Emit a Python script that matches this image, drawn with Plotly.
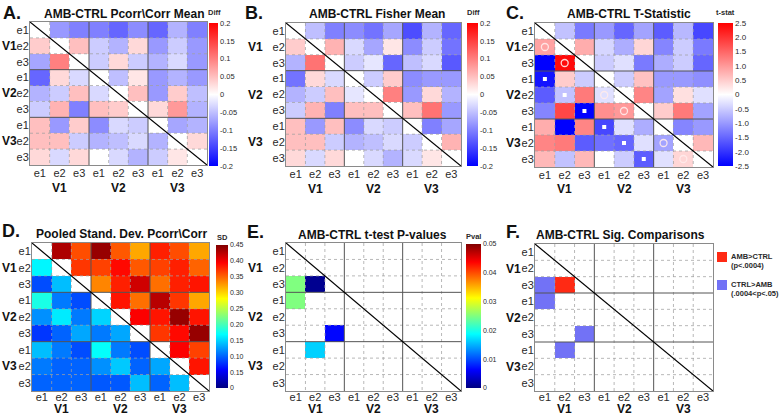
import numpy as np
import plotly.graph_objects as go

W, H = 779, 415
N = float("nan")

tick_labels = ["e1", "e2", "e3"] * 3
group_labels = ["V1", "V2", "V3"]
idx = list(range(9))

pcorr_mean = [
    [N, -0.08, -0.10, -0.10, -0.12, -0.09, -0.12, -0.06, -0.10],
    [0.04, N, 0.05, -0.04, -0.06, 0.03, -0.08, -0.04, -0.08],
    [-0.07, 0.10, N, -0.04, 0.03, -0.04, -0.06, -0.03, -0.08],
    [-0.12, 0.03, -0.03, N, -0.05, 0.02, -0.08, -0.06, -0.08],
    [-0.06, -0.04, 0.05, -0.03, N, 0.05, -0.08, 0.04, -0.05],
    [-0.04, 0.06, -0.10, 0.05, 0.04, N, 0.03, 0.08, -0.06],
    [0.05, -0.08, 0.04, -0.09, -0.03, -0.04, N, -0.07, -0.06],
    [0.05, 0.05, -0.04, -0.06, -0.05, -0.03, -0.06, N, 0.03],
    [0.03, -0.03, 0.03, 0.00, -0.03, -0.06, -0.04, 0.02, N],
]

fisher_mean = [
    [N, -0.05, -0.10, -0.09, -0.11, -0.07, -0.14, -0.06, -0.12],
    [0.04, N, 0.06, -0.03, -0.07, 0.02, -0.09, -0.04, -0.11],
    [-0.06, 0.11, N, -0.04, -0.02, -0.12, -0.05, -0.03, -0.13],
    [-0.11, 0.03, -0.03, N, -0.04, 0.04, -0.09, -0.08, -0.08],
    [-0.06, -0.04, 0.05, -0.02, N, 0.10, -0.08, 0.03, -0.06],
    [-0.04, 0.06, -0.10, 0.05, 0.05, N, 0.05, 0.11, -0.08],
    [0.05, -0.08, 0.05, -0.09, -0.03, -0.04, N, -0.10, -0.07],
    [0.05, 0.05, -0.04, -0.06, -0.05, -0.03, -0.04, N, 0.06],
    [0.03, -0.03, 0.03, 0.00, -0.03, -0.06, -0.03, 0.02, N],
]

t_stat = [
    [N, -0.6, -1.3, -1.0, -1.5, -0.9, -1.6, -0.7, -1.8],
    [0.9, N, 0.8, -0.4, -0.8, 0.4, -1.2, -0.5, -1.3],
    [-2.5, 2.4, N, -0.5, -0.3, -1.3, -0.8, -0.5, -1.5],
    [-2.3, 0.5, -0.5, N, -0.5, 0.6, -1.0, -1.0, -1.1],
    [-1.6, -0.6, 1.3, -0.3, N, 1.2, -0.9, 0.3, -0.3],
    [-1.2, 1.8, -2.5, 1.1, 1.0, N, 0.5, 1.3, -0.9],
    [0.8, -2.5, 1.2, -1.8, -0.3, -0.8, N, -1.2, -1.0],
    [1.2, 1.3, -1.6, -1.4, -1.5, -0.3, -0.9, N, 0.7],
    [0.7, -0.6, 0.7, 0.0, -0.5, -1.6, -0.3, 0.4, N],
]
square_rows = [3, 4, 5, 6, 7, 8]
square_cols = [0, 1, 2, 3, 4, 5]
circle_rows = [1, 2, 4, 5, 7, 8]
circle_cols = [0, 1, 3, 4, 6, 7]

pooled_sd = [
    [N, 0.43, 0.36, 0.44, 0.355, 0.32, 0.38, 0.36, 0.32],
    [0.165, N, 0.37, 0.365, 0.39, 0.355, 0.365, 0.38, 0.35],
    [0.09, 0.14, N, 0.335, 0.38, 0.415, 0.345, 0.38, 0.385],
    [0.18, 0.11, 0.09, N, 0.385, 0.345, 0.425, 0.37, 0.32],
    [0.12, 0.16, 0.11, 0.15, N, 0.395, 0.385, 0.44, 0.385],
    [0.08, 0.10, 0.13, 0.11, 0.13, N, 0.37, 0.39, 0.44],
    [0.14, 0.11, 0.09, 0.17, 0.11, 0.09, N, 0.395, 0.365],
    [0.11, 0.10, 0.10, 0.12, 0.145, 0.10, 0.13, N, 0.385],
    [0.10, 0.10, 0.10, 0.095, 0.095, 0.14, 0.10, 0.14, N],
]

p_values = [[N] * 9 for _ in range(9)]
p_values[2][0] = 0.025
p_values[3][0] = 0.025
p_values[2][1] = 0.0008
p_values[5][2] = 0.0065
p_values[6][1] = 0.0165

sig_code = [[N] * 9 for _ in range(9)]
sig_code[2][1] = 1
sig_code[2][0] = -1
sig_code[3][0] = -1
sig_code[5][2] = -1
sig_code[6][1] = -1

FONT = "Liberation Sans, Arial, sans-serif"
TXT = "#2a2a2a"

bwr = [[0, "rgb(0,0,255)"], [0.5, "rgb(255,255,255)"], [1, "rgb(255,0,0)"]]
jet = [[0, "rgb(0,0,128)"], [0.125, "rgb(0,0,255)"], [0.375, "rgb(0,255,255)"],
       [0.625, "rgb(255,255,0)"], [0.875, "rgb(255,0,0)"], [1, "rgb(128,0,0)"]]
sigscale = [[0, "#7272f6"], [0.5, "#7272f6"], [0.5, "#ff2a14"], [1, "#ff2a14"]]

# panel boxes in pixels: x0, x1, y0, y1
boxes = [
    (30, 207, 22, 165),
    (286, 461, 23, 166),
    (535, 713, 23, 167),
    (32, 209, 243, 391),
    (286, 461, 243, 391),
    (535, 713, 244, 391),
]
vlab_dy = [23, 23, 22, 18, 18, 18]
xtick_standoff = [-2, -2, -2, -4, -4, -4]
titles = ["AMB-CTRL Pcorr\\Corr Mean", "AMB-CTRL Fisher Mean", "AMB-CTRL T-Statistic",
          "Pooled Stand. Dev. Pcorr\\Corr", "AMB-CTRL t-test P-values", "AMB-CTRL Sig. Comparisons"]
title_pos = [(124, 14), (377, 14), (629, 14), (121, 234), (372, 235), (620, 235)]
letters = ["A.", "B.", "C.", "D.", "E.", "F."]
letter_pos = [(1, 13), (243, 13), (504, 13), (0, 231), (245, 232), (504, 232)]
vlab_x = [9, 255, 513, 9, 256, 513]

# colorbar specs: x0, thickness, ytop, ybot, label, label_x, label_y, font size
cbars = [
    (209, 9, 23, 166, "Diff", 215, 13, 7.5),
    (467, 11, 23, 166, "Diff", 473, 13, 7.5),
    (718, 15, 23, 166, "t-stat", 725, 13, 8),
    (216, 12, 245, 388, "SD", 222, 237, 7),
    (466, 15, 244, 388, "Pval", 473, 236, 7),
]

diff_ticks = [-0.2, -0.15, -0.1, -0.05, 0, 0.05, 0.1, 0.15, 0.2]
diff_text = ["-0.2", "-0.15", "-0.1", "-0.05", "0", "0.05", "0.1", "0.15", "0.2"]
t_ticks = [-2.5, -2, -1.5, -1, -0.5, 0, 0.5, 1, 1.5, 2, 2.5]
t_text = ["-2.5", "-2.0", "-1.5", "-1.0", "-0.5", "0", "0.5", "1.0", "1.5", "2.0", "2.5"]
sd_ticks = [0, 0.05, 0.1, 0.15, 0.2, 0.25, 0.3, 0.35, 0.4, 0.45]
sd_text = ["0", "0.15", "0.10", "0.15", "0.20", "0.25", "0.30", "0.35", "0.40", "0.45"]
p_ticks = [0, 0.01, 0.02, 0.03, 0.04, 0.05]
p_text = ["0", "0.01", "0.02", "0.03", "0.04", "0.05"]

panels = [
    (pcorr_mean, bwr, -0.2, 0.2, diff_ticks, diff_text),
    (fisher_mean, bwr, -0.2, 0.2, diff_ticks, diff_text),
    (t_stat, bwr, -2.5, 2.5, t_ticks, t_text),
    (pooled_sd, jet, 0, 0.45, sd_ticks, sd_text),
    (p_values, jet, 0, 0.05, p_ticks, p_text),
    (sig_code, sigscale, -1, 1, None, None),
]


def px(x):
    return x / W


def py(y):
    return 1 - y / H


fig = go.Figure()
annotations = []
shapes = []

for i, (z, cs, zmin, zmax, tv, tt) in enumerate(panels):
    k = "" if i == 0 else str(i + 1)
    xa, ya = "x" + k, "y" + k
    x0, x1, y0, y1 = boxes[i]
    tr = dict(z=z, x=idx, y=idx, xaxis=xa, yaxis=ya, colorscale=cs, zmin=zmin, zmax=zmax,
              hoverongaps=False, hoverinfo="skip")
    if i < 5:
        cx, th, ct, cb, lab, lx, ly, fs = cbars[i]
        tr["colorbar"] = dict(x=px(cx), xanchor="left", y=py(ct), yanchor="top",
                              len=cb - ct, lenmode="pixels", thickness=th,
                              thicknessmode="pixels", xpad=0, ypad=0, outlinewidth=0,
                              tickvals=tv, ticktext=tt, ticks="",
                              tickfont=dict(size=fs, color=TXT, family=FONT))
        annotations.append(dict(x=px(lx), y=py(ly), xref="paper", yref="paper", text="<b>%s</b>" % lab,
                                showarrow=False, font=dict(size=7.5, color=TXT, family=FONT),
                                xanchor="center", yanchor="middle"))
    else:
        tr["showscale"] = False
    fig.add_trace(go.Heatmap(**tr))

    axcommon = dict(tickvals=idx, ticktext=tick_labels, ticks="", showgrid=False, zeroline=False,
                    showline=True, mirror=True, linecolor="#8a8a8a", linewidth=1,
                    automargin=False,
                    tickfont=dict(size=11, color=TXT, family=FONT))
    fig.update_layout(**{
        ("xaxis" + k): dict(domain=[px(x0), px(x1)], range=[-0.5, 8.5], anchor=ya,
                            ticklabelstandoff=xtick_standoff[i], **axcommon),
        ("yaxis" + k): dict(domain=[py(y1), py(y0)], range=[8.5, -0.5], anchor=xa,
                            ticklabelstandoff=-2, **axcommon),
    })

    # grid lines
    for b in [0.5, 1.5, 3.5, 4.5, 6.5, 7.5]:
        for sx in (True, False):
            shapes.append(dict(type="line", xref=xa, yref=ya, layer="above",
                               x0=b if sx else -0.5, x1=b if sx else 8.5,
                               y0=-0.5 if sx else b, y1=8.5 if sx else b,
                               line=dict(color="rgba(160,160,160,0.75)", width=1, dash="dot")))
    for b in [2.5, 5.5]:
        for sx in (True, False):
            shapes.append(dict(type="line", xref=xa, yref=ya, layer="above",
                               x0=b if sx else -0.5, x1=b if sx else 8.5,
                               y0=-0.5 if sx else b, y1=8.5 if sx else b,
                               line=dict(color="#555555", width=1)))
    shapes.append(dict(type="line", xref=xa, yref=ya, layer="above", x0=-0.5, y0=-0.5,
                       x1=8.5, y1=8.5, line=dict(color="black", width=1.2)))

    # group labels
    for g, lab in enumerate(group_labels):
        annotations.append(dict(x=3 * g + 1, y=py(y1 + vlab_dy[i]), xref=xa, yref="paper",
                                text="<b>%s</b>" % lab,
                                showarrow=False, font=dict(size=12, color="#111", family=FONT),
                                xanchor="center", yanchor="middle"))
        annotations.append(dict(x=px(vlab_x[i]), y=3 * g + 1, xref="paper", yref=ya, text="<b>%s</b>" % lab,
                                showarrow=False, font=dict(size=12, color="#111", family=FONT),
                                xanchor="center", yanchor="middle"))
    tx, ty = title_pos[i]
    annotations.append(dict(x=px(tx), y=py(ty), xref="paper", yref="paper", text="<b>%s</b>" % titles[i],
                            showarrow=False, font=dict(size=12, color="#111", family=FONT),
                            xanchor="center", yanchor="middle"))
    lx, ly = letter_pos[i]
    annotations.append(dict(x=px(lx), y=py(ly), xref="paper", yref="paper", text="<b>%s</b>" % letters[i],
                            showarrow=False, font=dict(size=18, color="#111", family=FONT),
                            xanchor="left", yanchor="middle"))

# markers on T-stat panel
fig.add_trace(go.Scatter(x=square_cols, y=square_rows, xaxis="x3", yaxis="y3", mode="markers",
                         marker=dict(symbol="square", size=4, color="white"), showlegend=False,
                         hoverinfo="skip"))
fig.add_trace(go.Scatter(x=circle_cols, y=circle_rows, xaxis="x3", yaxis="y3", mode="markers",
                         marker=dict(symbol="circle-open", size=7, color="rgba(255,235,235,0.9)",
                                     line=dict(width=1.3)), showlegend=False, hoverinfo="skip"))

# legend for panel F
legend_items = [("#ff2a14", "AMB>CTRL", "(p<.0004)", 252),
                ("#7272f6", "CTRL>AMB", "(.0004<p<.05)", 280)]
for col, l1, l2, yt in legend_items:
    shapes.append(dict(type="rect", xref="paper", yref="paper", x0=px(717), x1=px(727),
                       y0=py(yt + 10), y1=py(yt), fillcolor=col, line=dict(width=0)))
    annotations.append(dict(x=px(729), y=py(yt + 4), xref="paper", yref="paper",
                            text="<b>%s</b>" % l1, showarrow=False, xanchor="left", yanchor="middle",
                            font=dict(size=7.5, color=TXT, family=FONT)))
    annotations.append(dict(x=px(729), y=py(yt + 13), xref="paper", yref="paper",
                            text="<b>%s</b>" % l2, showarrow=False, xanchor="left", yanchor="middle",
                            font=dict(size=7.5, color=TXT, family=FONT)))

fig.update_layout(width=W, height=H, margin=dict(l=0, r=0, t=0, b=0),
                  paper_bgcolor="white", plot_bgcolor="white",
                  annotations=annotations, shapes=shapes, showlegend=False,
                  hovermode=False, font=dict(family=FONT))
fig.write_html("out.html", config={"displayModeBar": False},
               post_script="document.body.style.margin='0px';document.body.style.overflow='hidden';")
